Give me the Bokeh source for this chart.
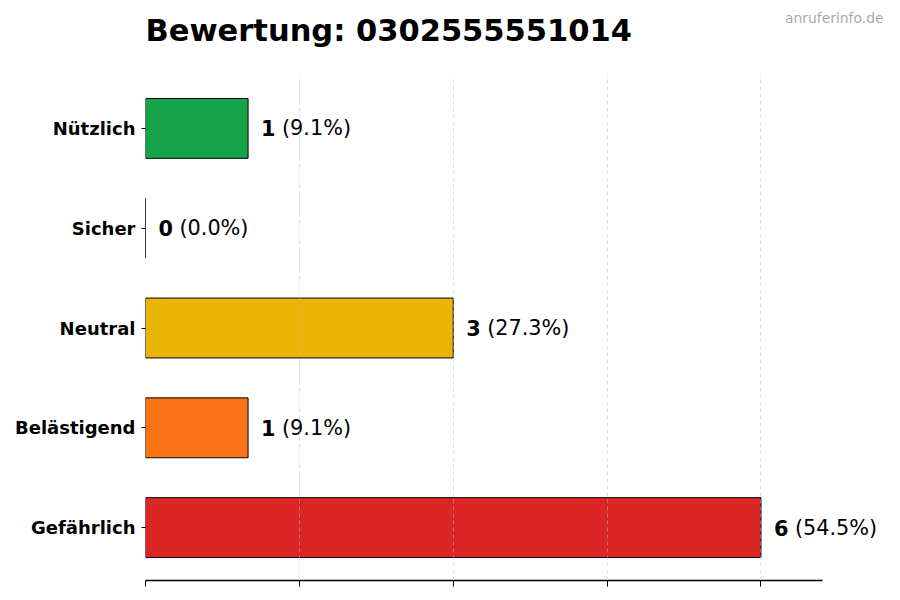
from bokeh.plotting import figure
from bokeh.models import ColumnDataSource, Range1d, FixedTicker, Label
from bokeh.core.properties import value
from bokeh.embed import file_html
from bokeh.resources import INLINE

# ---- data ----
categories = ["Nützlich", "Sicher", "Neutral", "Belästigend", "Gefährlich"]
counts = [1, 0, 3, 1, 6]
percents = ["(9.1%)", "(0.0%)", "(27.3%)", "(9.1%)", "(54.5%)"]
colors = ["#16a34a", "#94a3b8", "#eab308", "#f97316", "#dc2626"]
title_text = "Bewertung: 0302555551014"
watermark = "anruferinfo.de"
x_ticks = [0, 1.5, 3, 4.5, 6]

FONT = "DejaVu Sans"
n = len(categories)
ypos = [n - 1 - i for i in range(n)]
xmax = max(counts) * 1.1
off = max(counts) * 0.021
# frame covers the right and top edges so texts there are not clipped
x_view = xmax * 755 / 677
y_lo, y_hi = -0.53, n - 1 + 0.53
ppu = 505 / (y_hi - y_lo)
y_view = y_hi + 75 / ppu

src = ColumnDataSource(dict(
    y=ypos, cnt=counts, cnt_s=[str(c) for c in counts], pct=percents,
    col=colors, tx=[c + off for c in counts],
))

p = figure(width=900, height=600, output_backend="svg", toolbar_location=None,
           x_range=Range1d(0, x_view), y_range=Range1d(y_lo, y_view),
           min_border_left=145, min_border_right=0, min_border_top=0,
           min_border_bottom=20, background_fill_color="white",
           border_fill_color="white")
p.outline_line_color = None

p.hbar(y="y", left=0, right="cnt", height=0.6, source=src, fill_color="col",
       fill_alpha=1.0, line_color="black", line_width=1)

p.text(x="tx", y="y", text="cnt_s", source=src, text_font=value(FONT),
       text_font_style="bold", text_font_size="20.8px", text_baseline="middle",
       text_align="left", text_color="black")
p.text(x="tx", y="y", text="pct", source=src, text_font=value(FONT),
       text_font_size="20.8px", text_baseline="middle", text_align="left",
       text_color="black", x_offset=21)

# axes
p.yaxis.ticker = FixedTicker(ticks=ypos)
p.yaxis.major_label_overrides = {yy: c for yy, c in zip(ypos, categories)}
p.yaxis.axis_line_color = None
p.yaxis.major_tick_out = 4
p.yaxis.major_tick_in = 0
p.yaxis.minor_tick_line_color = None
p.yaxis.major_label_text_font = FONT
p.yaxis.major_label_text_font_style = "bold"
p.yaxis.major_label_text_font_size = "18px"
p.yaxis.major_label_text_color = "black"
p.yaxis.major_label_standoff = 6

p.xaxis.ticker = FixedTicker(ticks=x_ticks)
p.xaxis.bounds = (0, xmax)
p.xaxis.major_label_overrides = {t: "" for t in x_ticks}
p.xaxis.major_label_text_font_size = "8px"
p.xaxis.major_label_standoff = 0
p.xaxis.major_tick_out = 6
p.xaxis.major_tick_in = 0
p.xaxis.minor_tick_line_color = None
p.xaxis.axis_line_color = "black"
p.xaxis.axis_line_width = 1.3
p.xaxis.major_tick_line_width = 1

p.ygrid.grid_line_color = None
p.xgrid.grid_line_color = "#bbbbbb"
p.xgrid.grid_line_alpha = 0.6
p.xgrid.grid_line_dash = "4 3"
p.xgrid.grid_line_width = 0.8
p.xgrid.level = "overlay"
p.xgrid.cross_bounds = (y_lo, y_hi)

# screen units are measured from the frame's bottom-left corner (frame: left 145, bottom 580)
p.add_layout(Label(x=0, y=550, x_units="screen", y_units="screen", text=title_text,
                   text_font=FONT, text_font_style="bold", text_font_size="30.5px",
                   text_baseline="alphabetic", text_align="left", text_color="black"))
p.add_layout(Label(x=738, y=563, x_units="screen", y_units="screen", text=watermark,
                   text_font=FONT, text_font_size="13.9px", text_baseline="middle",
                   text_align="right", text_color="#aaaaaa"))

open("out.html", "w").write(file_html(p, INLINE))
